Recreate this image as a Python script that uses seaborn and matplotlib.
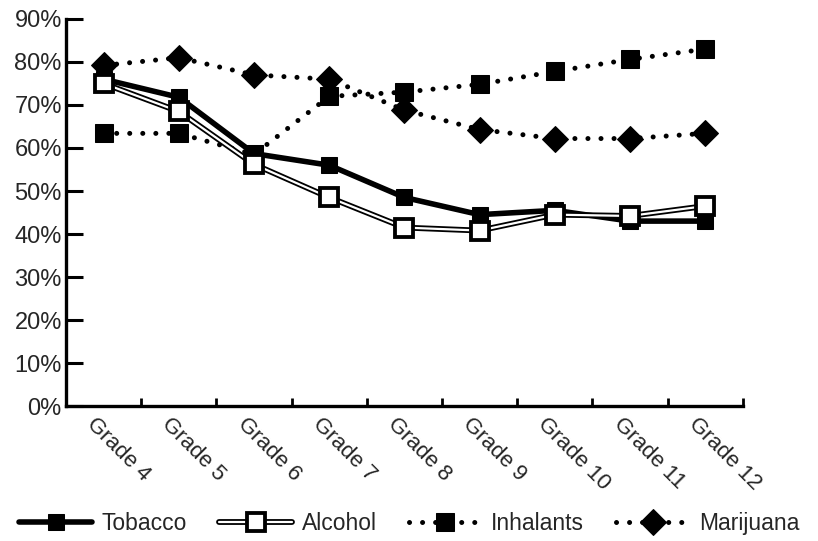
import numpy as np
import pandas as pd
import seaborn as sns
import matplotlib.pyplot as plt
import matplotlib.patheffects as pe
import matplotlib.transforms as mtrans
from matplotlib.ticker import FuncFormatter, FixedLocator

grades = ["Grade 4", "Grade 5", "Grade 6", "Grade 7", "Grade 8",
          "Grade 9", "Grade 10", "Grade 11", "Grade 12"]
tobacco = [76, 71.8, 58.7, 56, 48.5, 44.5, 45.5, 43, 43]
alcohol = [75, 68.5, 56.2, 48.5, 41.5, 40.8, 44.5, 44.2, 46.5]
inhalants = [63.4, 63.4, 58.5, 72, 73, 74.8, 77.8, 80.6, 83]
marijuana = [79.2, 81, 77, 76, 68.8, 64.3, 62.2, 62.2, 63.4]

sns.set_style("white")
plt.rcParams['font.family'] = ['Liberation Sans', 'DejaVu Sans']

fig = plt.figure(figsize=(8.18, 5.41), dpi=100)
ax = fig.add_axes([0.0807, 0.2495, 0.908 - 0.0807, 0.9649 - 0.2495])

df = pd.DataFrame({"grade": grades, "Tobacco": tobacco, "Alcohol": alcohol,
                   "Inhalants": inhalants, "Marijuana": marijuana})

dot = (0, (0.01, 2.6))

sns.lineplot(data=df, x="grade", y="Tobacco", ax=ax, color="black", lw=4,
             marker="s", markersize=12, markerfacecolor="black",
             markeredgecolor="black", label="Tobacco", sort=False)
sns.lineplot(data=df, x="grade", y="Alcohol", ax=ax, color="white", lw=1.6,
             marker="s", markersize=11.5, markerfacecolor="white",
             markeredgecolor="black", markeredgewidth=1.3, label="Alcohol", sort=False)
sns.lineplot(data=df, x="grade", y="Inhalants", ax=ax, color="black", lw=3.6,
             linestyle=dot, dash_capstyle="round", marker="s", markersize=12.5,
             markerfacecolor="black", markeredgecolor="black",
             label="Inhalants", sort=False)
sns.lineplot(data=df, x="grade", y="Marijuana", ax=ax, color="black", lw=3.6,
             linestyle=dot, dash_capstyle="round", marker="D", markersize=13,
             markerfacecolor="black", markeredgecolor="black",
             label="Marijuana", sort=False)

# double outline look for alcohol line
alc = ax.get_lines()[1]
alc.set_path_effects([pe.Stroke(linewidth=4.2, foreground="black"), pe.Normal()])
alc.set_zorder(3)

ax.set_xlim(-0.5, 8.5)
ax.set_ylim(0, 90)
ax.set_yticks(np.arange(0, 91, 10))
ax.yaxis.set_major_formatter(FuncFormatter(lambda v, p: f"{int(v)}%"))
ax.set_xlabel("")
ax.set_ylabel("")

ax.set_xticks(range(len(grades)))
ax.set_xticklabels(grades, rotation=-45, ha="left", va="top",
                   rotation_mode="anchor", fontsize=16)
ax.xaxis.set_minor_locator(FixedLocator(np.arange(0.5, 9, 1)))
ax.tick_params(axis="x", which="major", bottom=False, length=0, pad=5)
ax.tick_params(axis="x", which="minor", bottom=True, direction="in", length=6,
               width=2, color="black")
ax.tick_params(axis="y", left=True, direction="in", length=12, width=2.2,
               labelsize=17, pad=3, color="black")
shift = mtrans.ScaledTranslation(-6 / 100, -1 / 100, fig.dpi_scale_trans)
for lab in ax.get_xticklabels():
    lab.set_transform(lab.get_transform() + shift)

for s in ["top", "right"]:
    ax.spines[s].set_visible(False)
for s in ["left", "bottom"]:
    ax.spines[s].set_linewidth(2.4)
    ax.spines[s].set_color("black")

handles, labels = ax.get_legend_handles_labels()
ax.get_legend().remove()
fig.legend(handles, labels, loc="center", bbox_to_anchor=(0.5, 0.033), ncol=4,
           frameon=False, fontsize=16.5, handlelength=3.2, numpoints=1,
           columnspacing=1.4, handletextpad=0.4)

fig.savefig("out.png", dpi=100)
